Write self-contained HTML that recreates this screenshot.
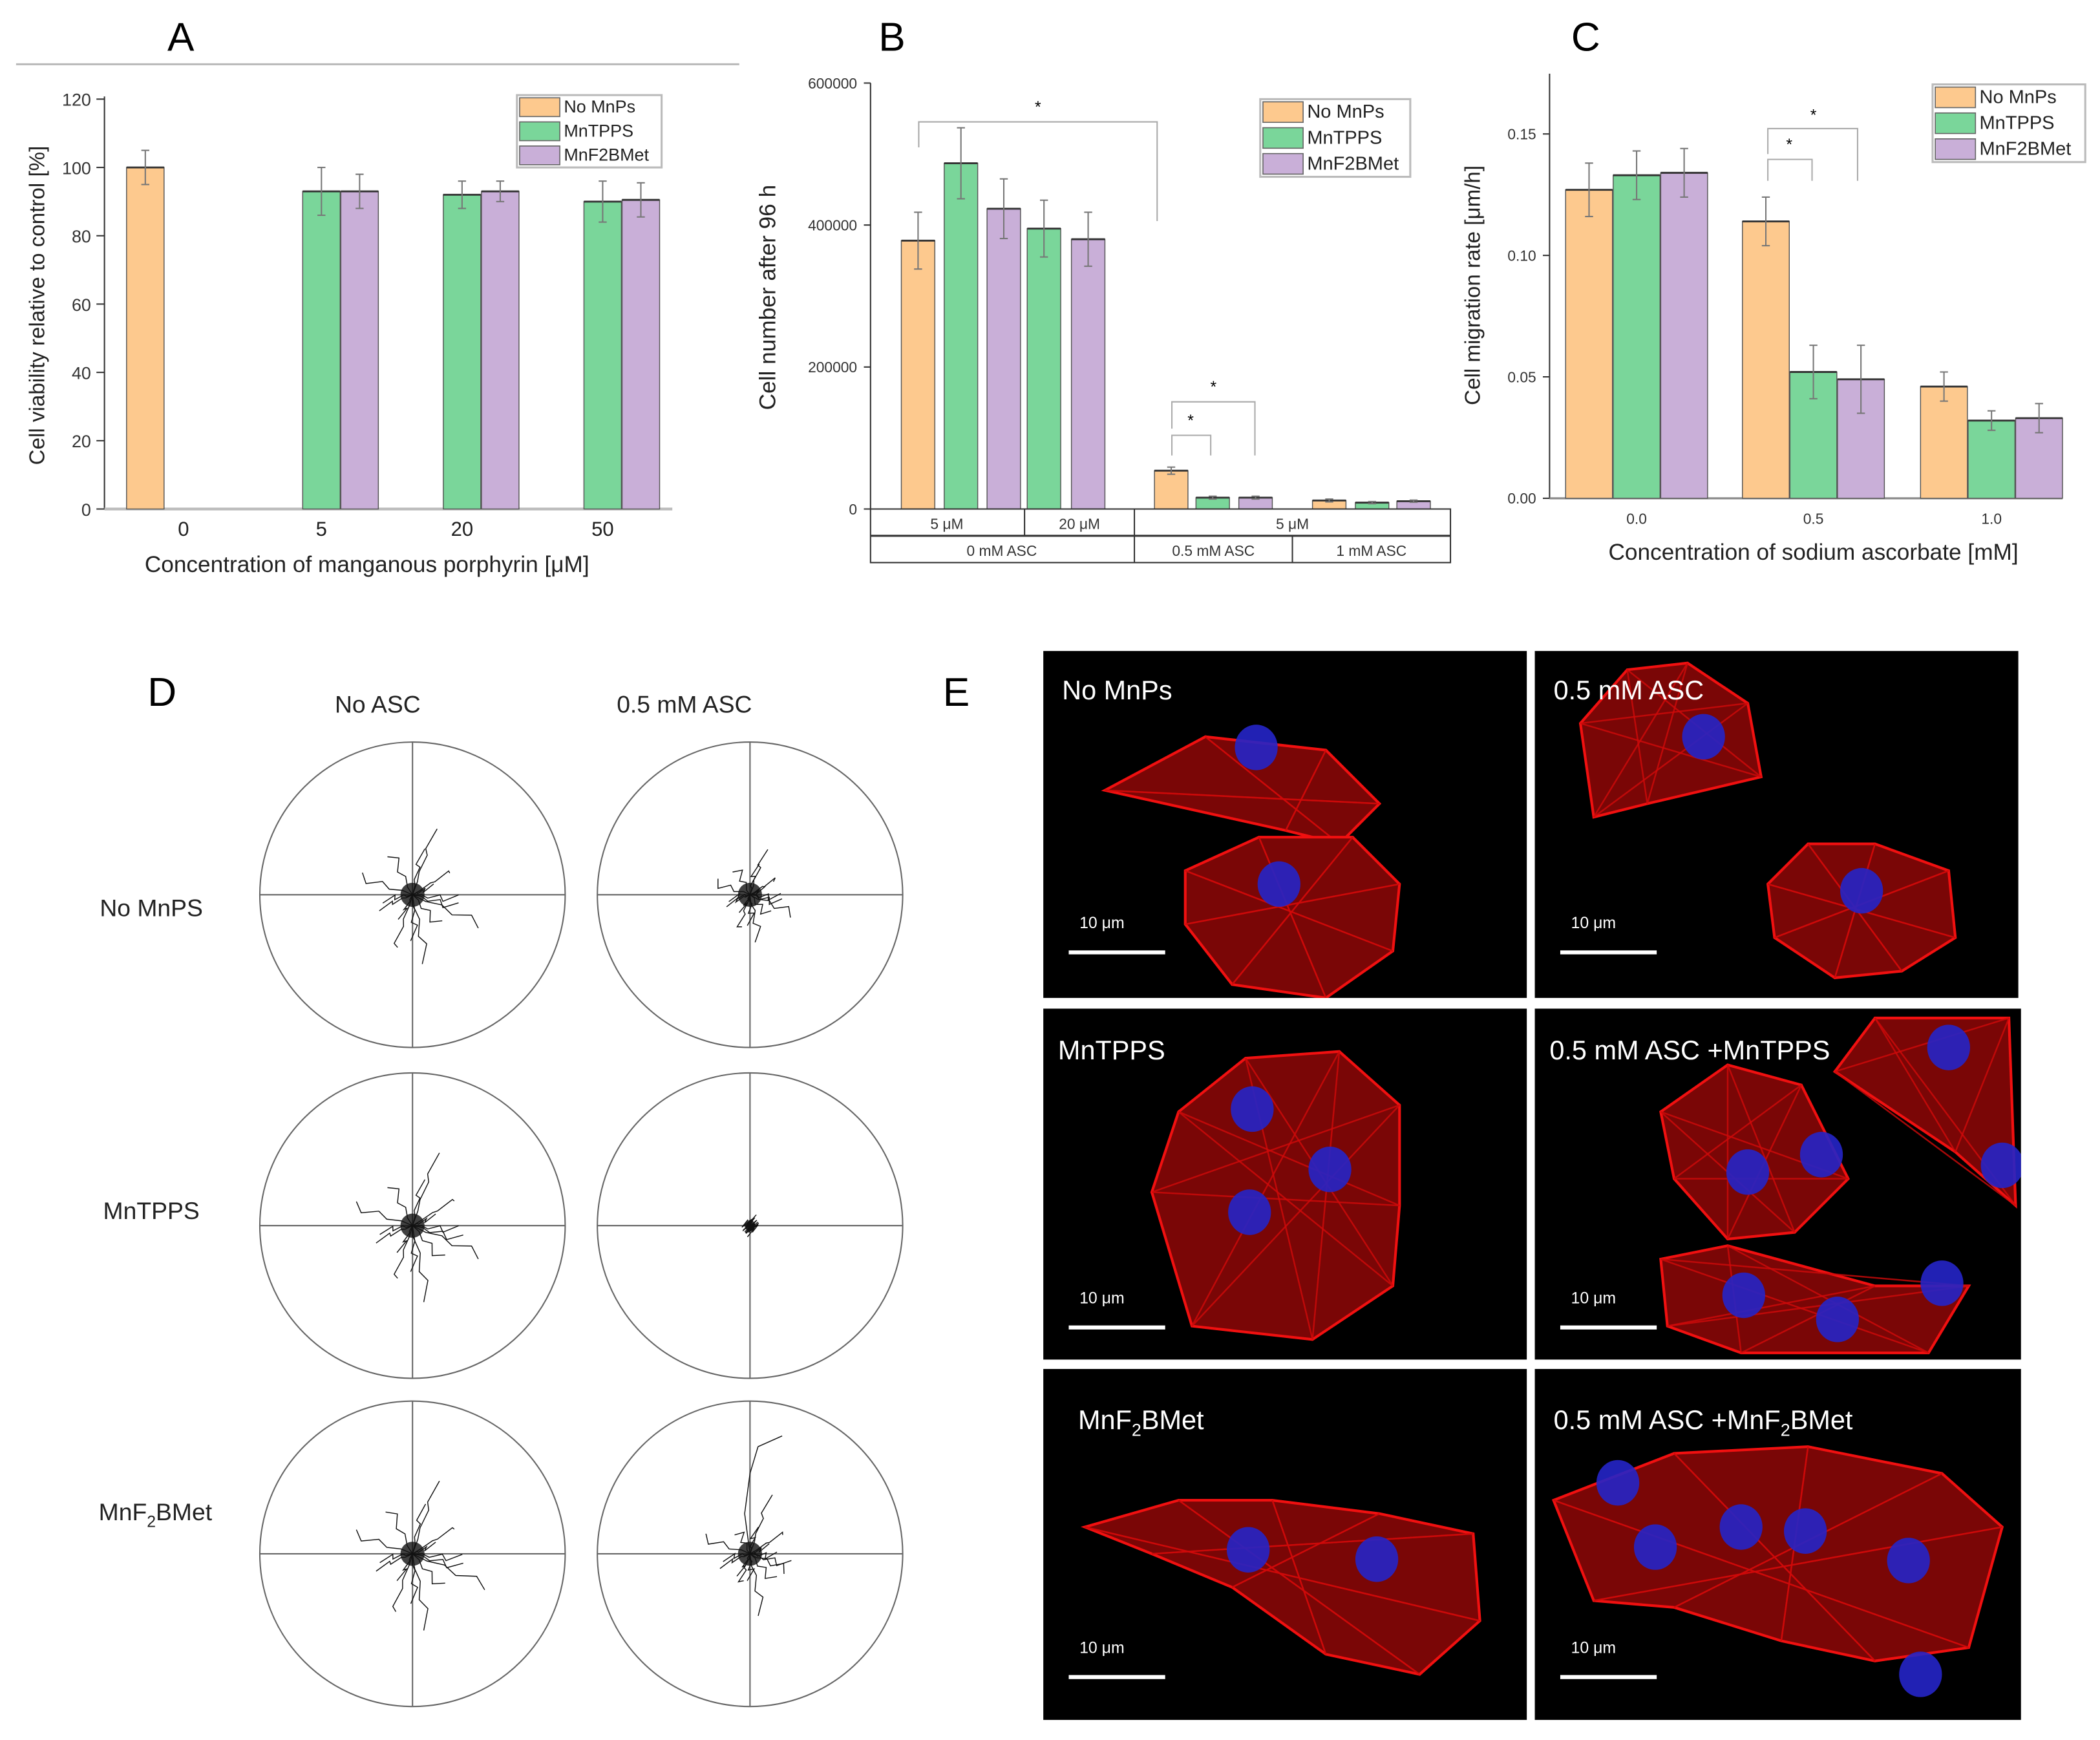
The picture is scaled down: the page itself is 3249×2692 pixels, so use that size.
<!DOCTYPE html>
<html><head><meta charset="utf-8">
<style>
html,body{margin:0;padding:0;background:#fff;}
svg{display:block;font-family:"Liberation Sans",sans-serif;}
</style></head>
<body>
<svg id="fig" xmlns="http://www.w3.org/2000/svg" width="3249" height="2692" viewBox="0 0 1568 1299" preserveAspectRatio="none">
<rect x="0" y="0" width="1568" height="1299" fill="#fff"/>
<text x="135" y="38" font-size="30" text-anchor="middle">A</text>
<line x1="12" y1="48" x2="552" y2="48" stroke="#bbb" stroke-width="1.5"/>
<text x="666" y="38" font-size="30" text-anchor="middle">B</text>
<text x="1184" y="38" font-size="30" text-anchor="middle">C</text>
<text x="121" y="527" font-size="30" text-anchor="middle">D</text>
<text x="714" y="527" font-size="30" text-anchor="middle">E</text>
<g id="chartA"></g>
<g id="chartB"></g>
<g id="chartC"></g>
<g id="panelD"></g>
<g id="panelE"></g>
</svg>
<script>
const NS="http://www.w3.org/2000/svg";
const COLORS=["#fdc98e","#7ad69a","#c9afd8"];
const SERIES_NAMES=["No MnPs","MnTPPS","MnF2BMet"];
// Panel A data
const aCats=["0","5","20","50"];
const aNoMnPs=[100,null,null,null];
const aMnTPPS=[null,93,92,90];
const aMnF2BMet=[null,93,93,90.5];
const aErrNo=[5,0,0,0];
const aErrT=[0,7,4,6];
const aErrF=[0,5,3,5];
const aTicks=[0,20,40,60,80,100,120];
// Panel B data
const bNoMnPs=[378000,null,54000,12000];
const bMnTPPS=[487000,395000,16000,9000];
const bMnF2BMet=[423000,380000,16000,11000];
const bErrNo=[40000,0,5000,2000];
const bErrT=[50000,40000,2000,1500];
const bErrF=[42000,38000,2000,1500];
const bTicks=[0,200000,400000,600000];
// Panel C data
const cCats=["0.0","0.5","1.0"];
const cNoMnPs=[0.127,0.114,0.046];
const cMnTPPS=[0.133,0.052,0.032];
const cMnF2BMet=[0.134,0.049,0.033];
const cErrNo=[0.011,0.010,0.006];
const cErrT=[0.010,0.011,0.004];
const cErrF=[0.010,0.014,0.006];
const cTicks=[0.00,0.05,0.10,0.15];

function mk(tag,attrs,parent,txt){const e=document.createElementNS(NS,tag);for(const k in attrs)e.setAttribute(k,attrs[k]);if(txt!==undefined)e.textContent=txt;parent.appendChild(e);return e;}

function legend(g,x,y,w,h,fs){
  const box=mk('rect',{x:x,y:y,width:w,height:h,fill:'#fff',stroke:'#bbb','stroke-width':1.5},g);
  
  
  const rh=h/3;
  SERIES_NAMES.forEach((n,i)=>{
    const r=mk('rect',{x:x+2,y:y+2+i*rh,width:30,height:rh-4,fill:COLORS[i],stroke:'#666','stroke-width':0.8},g);
    
    
    const t=mk('text',{x:x+35,y:y+i*rh+rh*0.72,'font-size':fs,fill:'#222'},g,n);
    
    
  });
}
function bar(g,x,w,y0,y1,color,err,ey,name){
  const r=mk('rect',{x:x,y:Math.min(y0,y1),width:w,height:Math.abs(y0-y1),fill:color,stroke:'#555','stroke-width':0.7},g);
  
  
  mk('line',{x1:x,x2:x+w,y1:y1,y2:y1,stroke:'#333','stroke-width':1.4},g);
  if(err){const cx=x+w/2;mk('line',{x1:cx,x2:cx,y1:y1-ey,y2:y1+ey,stroke:'#777','stroke-width':1},g);
    mk('line',{x1:cx-3,x2:cx+3,y1:y1-ey,y2:y1-ey,stroke:'#777','stroke-width':1},g);
    mk('line',{x1:cx-3,x2:cx+3,y1:y1+ey,y2:y1+ey,stroke:'#777','stroke-width':1},g);}
}

// ---- Chart A
(function(){
  const g=document.getElementById('chartA');
  const y=v=>380-306*v/120;
  const centers=[137,240,345,450];
  mk('line',{x1:78,x2:78,y1:72,y2:380,stroke:'#333','stroke-width':1},g);
  mk('line',{x1:78,x2:502,y1:380,y2:380,stroke:'#bbb','stroke-width':2},g);
  aTicks.forEach(t=>{mk('line',{x1:72,x2:78,y1:y(t),y2:y(t),stroke:'#333'},g);
    const tl=mk('text',{x:68,y:y(t)+5,'font-size':13,'text-anchor':'end',fill:'#333'},g,String(t));
    
    });
  aCats.forEach((c,i)=>{const tl=mk('text',{x:centers[i],y:400,'font-size':15,'text-anchor':'middle',fill:'#222'},g,c);
    
    });
  const vals=[aNoMnPs,aMnTPPS,aMnF2BMet],errs=[aErrNo,aErrT,aErrF];
  aCats.forEach((c,i)=>{vals.forEach((s,k)=>{if(s[i]==null)return;
    const x=centers[i]+(k-1)*28.5-14;
    bar(g,x,28,y(0),y(s[i]),COLORS[k],true,errs[k][i]*306/120,'bar-a-'+k+'-'+i);});});
  const yt=mk('text',{x:33,y:228,'font-size':16,'text-anchor':'middle',transform:'rotate(-90 33 228)',fill:'#222'},g,'Cell viability relative to control [%]');
  
  
  const xt=mk('text',{x:274,y:427,'font-size':17,'text-anchor':'middle',fill:'#222'},g,'Concentration of manganous porphyrin [μM]');
  
  
  legend(g,386,71,108,54,13);
})();

// ---- Chart B
(function(){
  const g=document.getElementById('chartB');
  const y=v=>380-318*v/600000;
  mk('line',{x1:650,x2:650,y1:62,y2:380,stroke:'#333','stroke-width':1},g);
  bTicks.forEach(t=>{mk('line',{x1:645,x2:650,y1:y(t),y2:y(t),stroke:'#333'},g);
    const tl=mk('text',{x:640,y:y(t)+4,'font-size':11,'text-anchor':'end',fill:'#333'},g,String(t));
    
    });
  const groupX=[[673,705,737],[null,767,800],[862,893,925],[980,1012,1043]];
  const vals=[bNoMnPs,bMnTPPS,bMnF2BMet],errs=[bErrNo,bErrT,bErrF];
  groupX.forEach((gx,i)=>{vals.forEach((s,k)=>{if(s[i]==null)return;
    bar(g,gx[k],25,y(0),y(s[i]),COLORS[k],true,errs[k][i]*318/600000,'bar-b-'+k+'-'+i);});});
  mk('rect',{x:650,y:380,width:433,height:40,fill:'none',stroke:'#333','stroke-width':1},g);
  mk('line',{x1:650,x2:1083,y1:400,y2:400,stroke:'#333','stroke-width':1.5},g);
  [[765,380,400],[847,380,420],[965,400,420]].forEach(l=>mk('line',{x1:l[0],x2:l[0],y1:l[1],y2:l[2],stroke:'#333'},g));
  [['5 μM',707,395],['20 μM',806,395],['5 μM',965,395],['0 mM ASC',748,415],['0.5 mM ASC',906,415],['1 mM ASC',1024,415]].forEach(t=>{
    const tl=mk('text',{x:t[1],y:t[2],'font-size':11,'text-anchor':'middle',fill:'#333'},g,t[0]);
    
    });
  mk('polyline',{points:'686,110 686,91 864,91 864,165',fill:'none',stroke:'#aaa','stroke-width':1},g);
  mk('text',{x:775,y:84,'font-size':12,'text-anchor':'middle'},g,'*');
  mk('polyline',{points:'875,340 875,325 904,325 904,340',fill:'none',stroke:'#aaa','stroke-width':1},g);
  mk('text',{x:889,y:318,'font-size':12,'text-anchor':'middle'},g,'*');
  mk('polyline',{points:'875,320 875,300 937,300 937,340',fill:'none',stroke:'#aaa','stroke-width':1},g);
  mk('text',{x:906,y:293,'font-size':12,'text-anchor':'middle'},g,'*');
  const yt=mk('text',{x:579,y:222,'font-size':17,'text-anchor':'middle',transform:'rotate(-90 579 222)',fill:'#222'},g,'Cell number after 96 h');
  
  
  legend(g,941,74,112,58,14);
})();

// ---- Chart C
(function(){
  const g=document.getElementById('chartC');
  const y=v=>372-272*v/0.15;
  const centers=[1222,1354,1487];
  mk('line',{x1:1157,x2:1157,y1:55,y2:372,stroke:'#333','stroke-width':1},g);
  mk('line',{x1:1157,x2:1540,y1:372,y2:372,stroke:'#888','stroke-width':1.5},g);
  cTicks.forEach(t=>{mk('line',{x1:1152,x2:1157,y1:y(t),y2:y(t),stroke:'#333'},g);
    const tl=mk('text',{x:1147,y:y(t)+4,'font-size':11,'text-anchor':'end',fill:'#333'},g,t.toFixed(2));
    
    });
  cCats.forEach((c,i)=>{const tl=mk('text',{x:centers[i],y:391,'font-size':11,'text-anchor':'middle',fill:'#333'},g,c);
    
    });
  const vals=[cNoMnPs,cMnTPPS,cMnF2BMet],errs=[cErrNo,cErrT,cErrF];
  cCats.forEach((c,i)=>{vals.forEach((s,k)=>{
    const x=centers[i]+(k-1)*35.5-17.5;
    bar(g,x,35,y(0),y(s[i]),COLORS[k],true,errs[k][i]*272/0.15,'bar-c-'+k+'-'+i);});});
  mk('polyline',{points:'1320,135 1320,119 1353,119 1353,135',fill:'none',stroke:'#aaa','stroke-width':1},g);
  mk('text',{x:1336,y:112,'font-size':12,'text-anchor':'middle'},g,'*');
  mk('polyline',{points:'1320,115 1320,96 1387,96 1387,135',fill:'none',stroke:'#aaa','stroke-width':1},g);
  mk('text',{x:1354,y:90,'font-size':12,'text-anchor':'middle'},g,'*');
  const yt=mk('text',{x:1105,y:213,'font-size':16,'text-anchor':'middle',transform:'rotate(-90 1105 213)',fill:'#222'},g,'Cell migration rate [μm/h]');
  
  
  const xt=mk('text',{x:1354,y:418,'font-size':17,'text-anchor':'middle',fill:'#222'},g,'Concentration of sodium ascorbate [mM]');
  
  
  legend(g,1443,63,114,58,14);
})();

// ---- Panel D
(function(){
  const g=document.getElementById('panelD');
  const cols=[308,560],rows=[668,915,1160],R=114;
  [['No ASC',282],['0.5 mM ASC',511]].forEach(t=>{const e=mk('text',{x:t[1],y:532,'font-size':18,'text-anchor':'middle',fill:'#222'},g,t[0]);
    
    });
  ['No MnPS','MnTPPS'].forEach((t,i)=>{const e=mk('text',{x:113,y:[684,910][i],'font-size':18,'text-anchor':'middle',fill:'#222'},g,t);
    
    });
  const rl=mk('text',{x:116,y:1135,'font-size':18,'text-anchor':'middle',fill:'#222'},g);
  mk('tspan',{},rl,'MnF');
  mk('tspan',{'font-size':12,dy:5},rl,'2');
  mk('tspan',{dy:-5},rl,'BMet');
  
  
  const spread=[[0.55,0.45],[0.35,0.3],[0.55,0.5],[0.05,0.05],[0.6,0.5],[0.3,0.4]];
  const dirs=[[1,0.1],[0.8,-0.5],[0.3,-0.9],[-0.4,-0.8],[-0.9,-0.3],[-0.85,0.35],[-0.3,0.9],[0.2,0.95],[0.6,0.7],[0.95,0.4],[0.5,-0.2],[-0.2,0.4],[0.1,-0.5],[-0.6,0.1],[0.7,0.2],[0.05,1.0]];
  let idx=0;
  rows.forEach((cy,r)=>cols.forEach((cx,c)=>{
    const p=mk('g',{},g);
    
    
    mk('circle',{cx:cx,cy:cy,r:R,fill:'none',stroke:'#666','stroke-width':1},p);
    mk('line',{x1:cx-R,x2:cx+R,y1:cy,y2:cy,stroke:'#666','stroke-width':1},p);
    mk('line',{x1:cx,x2:cx,y1:cy-R,y2:cy+R,stroke:'#666','stroke-width':1},p);
    const sp=spread[idx++];
    dirs.forEach((d,j)=>{
      const L=R*(j%3===0?sp[0]:sp[1])*(0.5+0.5*((j*7)%5)/4);
      let pts=[];
      for(let s=0;s<=5;s++){const f=s/5;const w=((j+s)%2?1:-1)*3*f;
        pts.push((cx+d[0]*L*f+w).toFixed(1)+','+(cy+d[1]*L*f-w).toFixed(1));}
      mk('polyline',{points:pts.join(' '),fill:'none',stroke:'#111','stroke-width':0.7},p);
    });
    mk('circle',{cx:cx,cy:cy,r:sp[0]<0.1?4:9,fill:'#111',opacity:0.8},p);
  }));
  mk('polyline',{points:'560,1160 556,1130 560,1100 566,1080 584,1072',fill:'none',stroke:'#111','stroke-width':0.7},g);
})();

// ---- Panel E
(function(){
  const g=document.getElementById('panelE');
  const boxes=[[779,486,361,259],[1146,486,361,259],[779,753,361,262],[1146,753,363,262],[779,1022,361,262],[1146,1022,363,262]];
  const titles=['No MnPs','0.5 mM ASC','MnTPPS','0.5 mM ASC +MnTPPS',null,null];
  const cells=[
    [[[825,590],[900,550],[990,560],[1030,600],[1000,630],[960,620]],[[885,650],[940,625],[1010,625],[1045,660],[1040,710],[990,745],[920,735],[885,690]]],
    [[[1180,540],[1215,500],[1260,495],[1305,525],[1315,580],[1230,600],[1190,610]],[[1320,660],[1350,630],[1400,630],[1455,650],[1460,700],[1420,725],[1370,730],[1325,700]]],
    [[[880,830],[930,790],[1000,785],[1045,825],[1045,900],[1040,960],[980,1000],[890,990],[860,890]]],
    [[[1240,830],[1290,795],[1345,810],[1380,880],[1340,920],[1290,925],[1250,880]],[[1370,800],[1400,760],[1500,760],[1505,900],[1460,860]],[[1240,940],[1290,930],[1400,960],[1470,960],[1440,1010],[1300,1010],[1245,990]]],
    [[[810,1140],[880,1120],[950,1120],[1030,1130],[1100,1145],[1105,1210],[1060,1250],[990,1235],[920,1185],[860,1160]]],
    [[[1160,1120],[1250,1085],[1350,1080],[1450,1100],[1495,1140],[1470,1230],[1400,1240],[1330,1225],[1250,1200],[1190,1195]]]
  ];
  const nuclei=[[[938,558],[955,660]],[[1272,550],[1390,665]],[[935,828],[993,873],[933,905]],[[1305,875],[1360,862],[1302,967],[1372,985],[1450,958],[1455,782],[1495,870]],[[932,1157],[1028,1164]],[[1208,1107],[1236,1155],[1300,1140],[1348,1143],[1425,1165],[1434,1250]]];
  boxes.forEach((b,i)=>{
    const p=mk('g',{},g);
    
    
    const cp='clip'+i;
    const cpe=mk('clipPath',{id:cp},p);mk('rect',{x:b[0],y:b[1],width:b[2],height:b[3]},cpe);
    mk('rect',{x:b[0],y:b[1],width:b[2],height:b[3],fill:'#000'},p);
    const inner=mk('g',{'clip-path':'url(#'+cp+')'},p);
    cells[i].forEach(poly=>{
      const pts=poly.map(q=>q.join(',')).join(' ');
      mk('polygon',{points:pts,fill:'#7a0606',stroke:'#f01010','stroke-width':2},inner);
      for(let a=0;a<poly.length;a++){const q=poly[a],o=poly[(a+Math.floor(poly.length/2))%poly.length];
        mk('line',{x1:q[0],y1:q[1],x2:o[0],y2:o[1],stroke:'#d00a0a','stroke-width':1.2,opacity:0.8},inner);}
    });
    nuclei[i].forEach(n=>mk('ellipse',{cx:n[0],cy:n[1],rx:16,ry:17,fill:'#2525c8',opacity:0.9},inner));
    if(titles[i]){const t=mk('text',{x:b[0]+(i===2?11:i===3?11:14),y:b[1]+(i<2?36:38),'font-size':20,fill:'#fff'},p,titles[i]);
      
      }
    const sx=b[0]+19,sy=b[1]+(i<2?225:i<4?238:230);
    mk('line',{x1:sx,x2:sx+72,y1:sy,y2:sy,stroke:'#fff','stroke-width':3},p);
    const sl=mk('text',{x:sx+8,y:sy-18,'font-size':12,fill:'#fff'},p,'10 μm');
    
    
  });
  const t5=mk('text',{x:805,y:1067,'font-size':20,fill:'#fff'},g);
  mk('tspan',{},t5,'MnF');
  mk('tspan',{'font-size':13,dy:5},t5,'2');
  mk('tspan',{dy:-5},t5,'BMet');
  
  
  const t6=mk('text',{x:1160,y:1067,'font-size':20,fill:'#fff'},g);
  mk('tspan',{},t6,'0.5 mM ASC +MnF');
  mk('tspan',{'font-size':13,dy:5},t6,'2');
  mk('tspan',{dy:-5},t6,'BMet');
  
  
})();
</script>
</body></html>
